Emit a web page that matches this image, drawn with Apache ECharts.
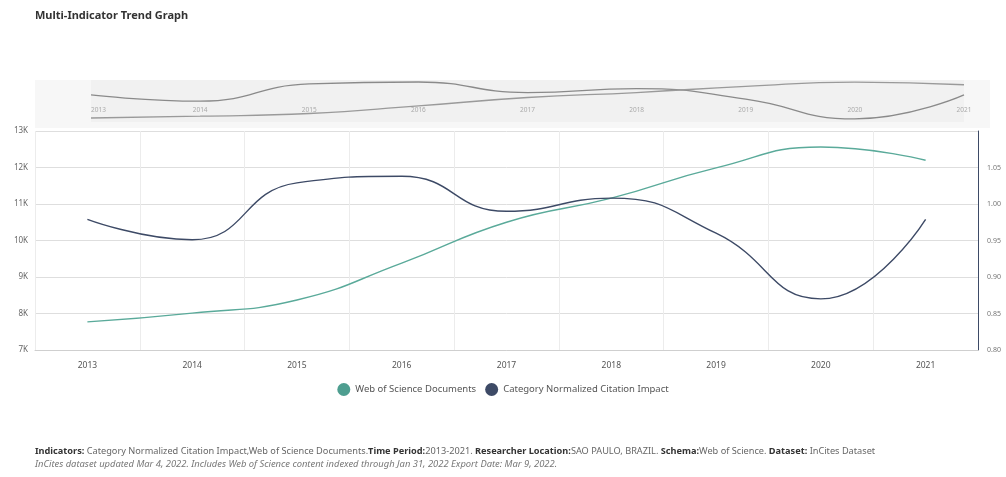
<!DOCTYPE html>
<html>
<head>
<meta charset="utf-8">
<script src="https://cdn.jsdelivr.net/npm/echarts@6/dist/echarts.min.js"></script>
<style>
  html, body { margin: 0; padding: 0; background: #fff; }
  #chart { width: 1006px; height: 477px; }
</style>
</head>
<body>
<div id="chart"></div>
<script>
// Years on the category axis
const years = ['2013', '2014', '2015', '2016', '2017', '2018', '2019', '2020', '2021'];
// Web of Science Documents per year
const wosDocuments = [7770, 8010, 8370, 9380, 10500, 11160, 11990, 12560, 12200];
// Category Normalized Citation Impact per year
const cnci = [0.979, 0.951, 1.029, 1.038, 0.990, 1.008, 0.960, 0.870, 0.979];
// Axis tick settings
const docTicks = { min: 7000, max: 13000, interval: 1000 };
const cnciTicks = { min: 0.80, max: 1.10, interval: 0.05 };

const FONT = '"Noto Sans", "Open Sans", sans-serif';
const GREEN = '#5aaa9a';
const NAVY = '#3d4a66';

const chart = echarts.init(document.getElementById('chart'), null, { renderer: 'canvas' });

chart.setOption({
  animation: false,
  textStyle: { fontFamily: FONT },
  graphic: [
    {
      type: 'text', left: 35, top: 10,
      style: { text: 'Multi-Indicator Trend Graph', font: 'bold 11px ' + FONT, fill: '#333' }
    },
    {
      type: 'rect', shape: { x: 35, y: 80, width: 955, height: 48 },
      style: { fill: '#f7f7f7' }, z: -10
    },
    {
      type: 'text', left: 35, top: 447,
      style: {
        text: '{b|Indicators:} Category Normalized Citation Impact,Web of Science Documents.{b|Time Period:}2013-2021. {b|Researcher Location:}SAO PAULO, BRAZIL. {b|Schema:}Web of Science. {b|Dataset:} InCites Dataset',
        font: '9.2px ' + FONT, fill: '#666',
        rich: { b: { fontWeight: 'bold', fontSize: 9.2, fill: '#333', fontFamily: FONT } }
      }
    },
    {
      type: 'text', left: 35, top: 460,
      style: {
        text: 'InCites dataset updated Mar 4, 2022. Includes Web of Science content indexed through Jan 31, 2022 Export Date: Mar 9, 2022.',
        font: 'italic 9.4px ' + FONT, fill: '#777'
      }
    }
  ],
  legend: {
    data: [
      { name: 'Web of Science Documents', itemStyle: { color: '#4e9e90' } },
      { name: 'Category Normalized Citation Impact', itemStyle: { color: NAVY } }
    ],
    top: 378, left: 'center',
    icon: 'circle', itemWidth: 13, itemHeight: 13, itemGap: 9,
    textStyle: { fontSize: 9.5, color: '#555' }
  },
  grid: [
    { left: 35, right: 28, top: 131, bottom: 127, containLabel: false },
    { left: 91, right: 42, top: 80, height: 42, show: true, backgroundColor: '#f1f1f1', borderWidth: 0 }
  ],
  xAxis: [
    {
      type: 'category', gridIndex: 0, data: years, boundaryGap: true,
      axisLine: { show: true, lineStyle: { color: '#cfcfcf' } },
      axisTick: { show: false },
      axisLabel: { color: '#555', fontSize: 8.5, margin: 11 },
      splitLine: { show: true, lineStyle: { color: '#ececec' } }
    },
    {
      type: 'category', gridIndex: 1, data: years, boundaryGap: false,
      axisLine: { show: false }, axisTick: { show: false },
      axisLabel: { inside: true, color: '#aaa', fontSize: 6.5, margin: 8, alignMinLabel: 'left' },
      splitLine: { show: false }
    }
  ],
  yAxis: [
    {
      type: 'value', gridIndex: 0, position: 'left',
      min: docTicks.min, max: docTicks.max, interval: docTicks.interval,
      axisLine: { show: false }, axisTick: { show: false },
      axisLabel: { color: '#666', fontSize: 8, margin: 7, formatter: v => (v / 1000) + 'K' },
      splitLine: { show: true, lineStyle: { color: '#dedede' } }
    },
    {
      type: 'value', gridIndex: 0, position: 'right',
      min: cnciTicks.min, max: cnciTicks.max, interval: cnciTicks.interval,
      axisLine: { show: true, lineStyle: { color: NAVY, width: 1 } },
      axisTick: { show: false },
      axisLabel: { color: '#777', fontSize: 7, margin: 9, showMaxLabel: false, formatter: v => v.toFixed(2) },
      splitLine: { show: false }
    },
    {
      type: 'value', gridIndex: 1, min: 0.856, max: 1.047, show: false
    },
    {
      type: 'value', gridIndex: 1, min: 7240, max: 12830, show: false
    }
  ],
  series: [
    {
      name: 'Web of Science Documents', type: 'line', xAxisIndex: 0, yAxisIndex: 0,
      data: wosDocuments, smooth: 0.5, showSymbol: false,
      lineStyle: { color: GREEN, width: 1.4 }, itemStyle: { color: GREEN }
    },
    {
      name: 'Category Normalized Citation Impact', type: 'line', xAxisIndex: 0, yAxisIndex: 1,
      data: cnci, smooth: 0.5, showSymbol: false,
      lineStyle: { color: NAVY, width: 1.4 }, itemStyle: { color: NAVY }
    },
    {
      name: 'overview-cnci', type: 'line', xAxisIndex: 1, yAxisIndex: 2,
      data: cnci, smooth: 0.5, showSymbol: false, silent: true,
      lineStyle: { color: '#8a8a8a', width: 1.3 }
    },
    {
      name: 'overview-docs', type: 'line', xAxisIndex: 1, yAxisIndex: 3,
      data: wosDocuments, smooth: 0.5, showSymbol: false, silent: true,
      lineStyle: { color: '#9a9a9a', width: 1.3 }
    }
  ]
});
</script>
</body>
</html>
